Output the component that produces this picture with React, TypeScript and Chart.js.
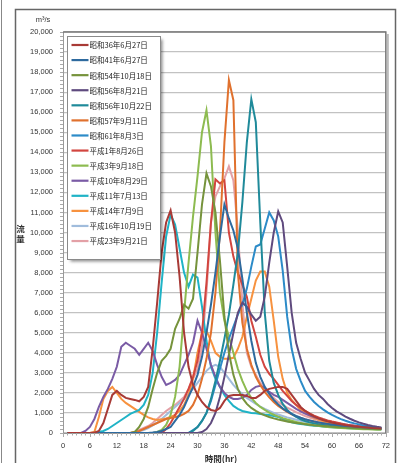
import React, { useEffect, useRef } from "react";
import { Chart, registerables } from "chart.js";
Chart.register(...registerables);

const HOURS = [1,2,3,4,5,6,7,8,9,10,11,12,13,14,15,16,17,18,19,20,21,22,23,24,25,26,27,28,29,30,31,32,33,34,35,36,37,38,39,40,41,42,43,44,45,46,47,48,49,50,51,52,53,54,55,56,57,58,59,60,61,62,63,64,65,66,67,68,69,70,71];
const X_TICKS = [0,6,12,18,24,30,36,42,48,54,60,66,72];
const Y_TICKS = [0,1000,2000,3000,4000,5000,6000,7000,8000,9000,10000,11000,12000,13000,14000,15000,16000,17000,18000,19000,20000];

const LABELS = ["昭和36年6月27日","昭和41年6月27日","昭和54年10月18日","昭和56年8月21日","昭和56年10月22日","昭和57年9月11日","昭和61年8月3日","平成1年8月26日","平成3年9月18日","平成10年8月29日","平成11年7月13日","平成14年7月9日","平成16年10月19日","平成23年9月21日"];
const COLORS = ["#A83A36","#2E6A9E","#76933C","#5F4A7E","#1F8A9A","#E0712E","#2C8BC8","#D2453F","#8DBB50","#7A5BA5","#1FB3C6","#F7923F","#A0BCDC","#E3A0A6"];

const S36 = [0,0,0,0,0,0,20,100,500,1200, 1900,2100,1900,1750,1700,1650,1580,1800,2300,4200, 6500,9000,10500,11100,10000,7800,5000,3300,2400,1900, 1550,1300,1150,1100,1250,1600,1850,1900,1900,1900, 1850,1750,1750,1900,2100,2200,2250,2300,2300,2200, 1900,1600,1300,1100,950,830,730,650,580,520, 470,430,390,360,330,310,290,270,250,235,220];
const S41 = [0,0,0,0,0,0,0,0,0,0, 0,0,0,0,0,0,0,0,0,20, 50,100,200,300,600,900,1300,1800,2300,2900, 3800,5000,6400,8000,9800,11400,10700,10100,9200,7700, 6000,4600,3500,2800,2300,1950,1650,1420,1230,1080, 950,850,760,690,630,575,530,490,455,425, 400,375,355,335,318,302,288,275,263,252,242];
const S54 = [0,0,0,0,0,0,0,0,0,0, 0,0,0,0,0,50,300,700,1300,2200, 3000,3600,3850,4200,5200,5700,6400,6200,6700,9000, 11400,12950,12300,11000,8600,5800,4000,2900,2200,1750, 1450,1250,1100,980,880,800,730,670,620,575, 535,500,470,440,415,390,370,350,332,315, 300,285,272,260,248,237,227,218,210,202,195];
const S56A = [0,0,0,0,0,0,0,0,0,0, 0,0,0,0,0,0,0,0,0,0, 0,0,0,0,0,0,0,0,0,0, 50,200,500,1000,1800,2800,3900,5000,6000,6500, 6300,5900,5600,5800,6800,8500,10000,11050,10500,8300, 6000,4500,3700,3000,2600,2200,1900,1700,1450,1250, 1080,950,820,710,610,530,460,400,350,310,280];
const S56B = [0,0,0,0,0,0,0,0,0,0, 0,0,0,0,0,0,0,0,0,0, 0,0,0,0,0,0,0,0,100,300, 600,1000,1700,2600,3600,4700,5900,7400,9000,11500, 14500,16650,15500,10500,6000,3600,2500,1900,1450,1150, 950,800,680,600,530,480,440,405,375,350, 330,310,295,280,267,255,245,235,226,218,210];
const S57 = [0,0,0,0,0,0,0,0,0,0, 0,0,0,0,0,50,100,200,300,400, 500,600,700,750,800,850,950,1100,1400,1900, 2700,3700,5000,7000,10000,14500,17600,16600,8000,5500, 4200,3400,2800,2400,2050,1780,1550,1350,1200,1050, 930,830,750,680,620,570,525,485,450,420, 390,365,342,322,304,288,273,260,248,237,227];
const S61 = [0,0,0,0,0,0,0,0,0,0, 0,0,0,0,0,0,0,0,0,0, 0,0,0,0,0,0,0,0,150,300, 600,1000,1600,2400,3200,4000,4700,5300,5900,6400, 7200,8300,9300,9400,10200,11000,10600,9800,8100,5800, 4200,3200,2600,2100,1800,1550,1350,1180,1030,900, 790,690,610,540,480,430,380,340,300,270,240];
const H1 = [0,0,0,0,0,0,0,0,0,0, 0,0,0,0,0,0,0,0,0,0, 0,0,200,500,900,1300,1700,2200,2800,3600, 5000,7500,10500,12650,12450,12600,10000,8800,8000,7400, 6800,5600,4800,3900,3300,2950,2700,2400,2100,1850, 1600,1400,1250,1100,980,870,780,700,630,570, 520,470,430,390,360,330,300,280,260,240,220];
const H3 = [0,0,0,0,0,0,0,0,0,0, 0,0,0,0,0,0,0,0,0,0, 50,150,400,900,1800,3300,6000,8500,10800,12800, 15000,16100,14300,10000,7000,5600,4800,4000,3200,2600, 2100,1750,1500,1300,1150,1020,910,820,740,670, 610,555,505,460,420,385,355,330,305,285, 265,250,235,222,210,200,190,182,175,168,162];
const H10 = [0,0,0,0,100,300,700,1300,1800,2200, 2700,3300,4300,4500,4350,4200,3900,4200,4500,4100, 3400,2800,2400,2500,2650,2900,3400,3900,4500,5600, 5000,4200,3400,2800,2300,2000,1800,1700,1700,1750, 1900,2150,2300,2350,2250,2050,1900,1800,1650,1500, 1350,1200,1080,970,880,800,720,660,600,550, 500,460,420,390,360,335,310,290,270,255,240];
const H11 = [0,0,0,0,0,0,0,50,100,200, 350,500,650,800,950,1050,1150,1400,1900,3000, 5000,7500,9800,10900,10400,9200,8000,7300,7900,7750, 6300,4600,3300,2700,2300,1900,1600,1350,1200,1100, 1050,1000,980,950,920,900,850,800,700,600, 540,490,450,420,390,365,345,325,305,290, 275,260,250,240,230,220,210,200,195,190,185];
const H14 = [0,0,0,0,0,0,50,800,1700,2100, 2300,2000,1700,1500,1350,1200,1050,900,780,700, 650,680,720,800,900,1100,1400,1900,2700,4000, 5000,5100,4600,4000,3800,3700,3700,3750,4200,4800, 5800,6700,7600,8050,8050,7300,5600,3800,2700,2000, 1650,1400,1150,1000,870,760,670,600,540,490, 450,410,380,350,330,310,290,270,255,240,225];
const H16 = [0,0,0,0,0,0,0,0,0,0, 0,0,0,0,0,30,80,150,250,380, 520,700,900,1100,1300,1500,1700,1950,2200,2500, 2800,3100,3300,3400,3300,3000,2700,2400,2150,1950, 1750,1600,1450,1320,1200,1100,1000,920,850,780, 720,660,610,560,520,480,445,415,385,360, 335,315,295,278,262,248,235,223,212,202,193];
const H23 = [0,0,0,0,0,0,0,0,0,0, 0,0,0,0,0,50,150,250,350,500, 700,900,1100,1250,1400,1600,1800,2200,2700,3200, 4300,7000,10500,11800,12300,12700,13300,12600,10100,6500, 4000,3300,2900,2500,2200,1950,1750,1550,1400,1270, 1150,1040,940,850,770,700,640,590,540,500, 460,430,400,370,345,320,300,280,262,246,230];

const SERIES = [S36,S41,S54,S56A,S56B,S57,S61,H1,H3,H10,H11,H14,H16,H23];

const TICK_FONT = { family: '"Liberation Sans", Arial, sans-serif', size: 7.5 };
const JP = '"Noto Sans CJK JP", sans-serif';

const decor = {
  id: "decor",
  beforeDraw(chart: any) {
    const ctx = chart.ctx;
    ctx.save();
    ctx.fillStyle = "#fff";
    ctx.fillRect(0, 0, chart.width, chart.height);
    ctx.strokeStyle = "#666";
    ctx.lineWidth = 1.5;
    ctx.strokeRect(15.5, 9.5, 380, 480);
    ctx.strokeStyle = "#888";
    ctx.lineWidth = 1;
    ctx.beginPath();
    ctx.moveTo(1.5, 0);
    ctx.lineTo(1.5, 463);
    ctx.stroke();
    ctx.restore();
  },
  afterDraw(chart: any) {
    const ctx = chart.ctx;
    const a = chart.chartArea;
    const ys = chart.scales.y;
    const xs = chart.scales.x;
    ctx.save();
    ctx.strokeStyle = "#bbb";
    ctx.lineWidth = 2;
    ctx.beginPath();
    ctx.moveTo(a.right + 2, a.top + 2);
    ctx.lineTo(a.right + 2, a.bottom);
    ctx.stroke();
    ctx.strokeStyle = "#777";
    ctx.lineWidth = 1.5;
    ctx.beginPath();
    ctx.moveTo(a.left, a.top);
    ctx.lineTo(a.right, a.top);
    ctx.lineTo(a.right, a.bottom);
    ctx.stroke();
    ctx.strokeStyle = "#aaa";
    ctx.lineWidth = 1;
    for (let v = 0; v <= 20000; v += 200) {
      const y = Math.round(ys.getPixelForValue(v)) + 0.5;
      ctx.beginPath();
      ctx.moveTo(a.left - 3, y);
      ctx.lineTo(a.left, y);
      ctx.stroke();
    }
    for (let h = 0; h <= 72; h += 1) {
      const x = Math.round(xs.getPixelForValue(h)) + 0.5;
      ctx.beginPath();
      ctx.moveTo(x, a.bottom);
      ctx.lineTo(x, a.bottom + (h % 6 === 0 ? 4 : 2.5));
      ctx.stroke();
    }
    ctx.fillStyle = "#333";
    ctx.font = '7.5px "Liberation Sans", Arial, sans-serif';
    ctx.textAlign = "center";
    ctx.textBaseline = "middle";
    ctx.fillText("m³/s", 43, 20);
    ctx.font = "bold 8.5px " + JP;
    ctx.fillText("流", 20.5, 228.5);
    ctx.fillText("量", 20.5, 238.5);
    ctx.fillText("時間(hr)", 221, 459);
    const lx = 67.5, ly = 36.5, lw = 93, lh = 223;
    ctx.save();
    ctx.shadowColor = "rgba(0,0,0,0.45)";
    ctx.shadowBlur = 3;
    ctx.shadowOffsetX = 2;
    ctx.shadowOffsetY = 2;
    ctx.fillStyle = "#fff";
    ctx.fillRect(lx, ly, lw, lh);
    ctx.restore();
    ctx.strokeStyle = "#8a8a8a";
    ctx.lineWidth = 1;
    ctx.strokeRect(lx, ly, lw, lh);
    ctx.font = "7.5px " + JP;
    ctx.textAlign = "left";
    ctx.textBaseline = "middle";
    LABELS.forEach((lab, i) => {
      const y = 45 + i * 15.08;
      ctx.strokeStyle = COLORS[i];
      ctx.lineWidth = 2.2;
      ctx.beginPath();
      ctx.moveTo(71.5, y);
      ctx.lineTo(88.5, y);
      ctx.stroke();
      ctx.fillStyle = "#222";
      ctx.fillText(lab, 89.5, y + 0.5);
    });
    ctx.restore();
  },
};

export default function App() {
  const ref = useRef<HTMLCanvasElement>(null);
  useEffect(() => {
    if (!ref.current) return;
    const datasets = SERIES.map((vals, i) => ({
      label: LABELS[i],
      data: HOURS.map((h, j) => ({ x: h, y: vals[j] })),
      borderColor: COLORS[i],
      backgroundColor: COLORS[i],
      borderWidth: 2,
      pointRadius: 0,
      tension: 0,
      fill: false,
    }));
    const chart = new Chart(ref.current, {
      type: "line",
      data: { datasets },
      options: {
        responsive: false,
        animation: false,
        devicePixelRatio: 1,
        layout: { padding: { left: 0, top: 32, right: 8, bottom: 0 } },
        plugins: { legend: { display: false }, tooltip: { enabled: false } },
        scales: {
          x: {
            type: "linear",
            min: 0,
            max: 72,
            afterBuildTicks: (s: any) => { s.ticks = X_TICKS.map((v) => ({ value: v })); },
            afterFit: (s: any) => { s.height = 30; },
            grid: { display: false, drawTicks: false },
            border: { color: "#999", width: 1 },
            ticks: { font: TICK_FONT, color: "#333", padding: 8, maxRotation: 0, autoSkip: false },
          },
          y: {
            type: "linear",
            min: 0,
            max: 20000,
            afterBuildTicks: (s: any) => { s.ticks = Y_TICKS.map((v) => ({ value: v })); },
            afterFit: (s: any) => { s.width = 63; },
            grid: { color: "#C2C2C2", lineWidth: 1.2, drawTicks: false },
            border: { color: "#999", width: 1 },
            ticks: {
              font: TICK_FONT,
              color: "#333",
              padding: 10,
              autoSkip: false,
              callback: (v: any) => Number(v).toLocaleString("en-US"),
            },
          },
        },
      } as any,
      plugins: [decor],
    });
    return () => chart.destroy();
  }, []);
  return (
    <div style={{ position: "fixed", left: 0, top: 0, width: 398, height: 463, background: "#fff" }}>
      <canvas ref={ref} width={398} height={463} style={{ display: "block", width: 398, height: 463 }} />
    </div>
  );
}
